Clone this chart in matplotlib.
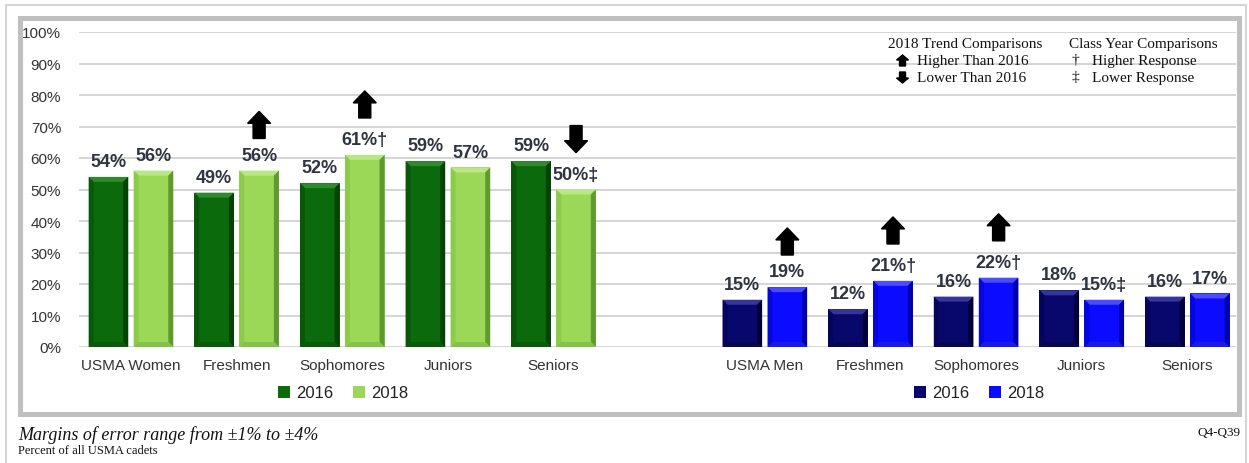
import numpy as np
import matplotlib
matplotlib.use("Agg")
import matplotlib.pyplot as plt
from matplotlib.patches import Rectangle, Polygon, FancyArrow

# ---------------- data ----------------
women_categories = ["USMA Women", "Freshmen", "Sophomores", "Juniors", "Seniors"]
women_2016 = [54, 49, 52, 59, 59]
women_2018 = [56, 56, 61, 57, 50]
women_2018_marks = ["", "", "†", "", "‡"]
women_trend = [0, 1, 1, 0, -1]          # 1 = higher than 2016, -1 = lower

men_categories = ["USMA Men", "Freshmen", "Sophomores", "Juniors", "Seniors"]
men_2016 = [15, 12, 16, 18, 16]
men_2018 = [19, 21, 22, 15, 17]
men_2018_marks = ["", "†", "†", "‡", ""]
men_trend = [1, 1, 1, 0, 0]

years = ["2016", "2018"]
y_ticks = list(range(0, 101, 10))

# ---------------- style ----------------
W, H = 1249, 464
SANS = "Liberation Sans"
SERIF = "Liberation Serif"
LABEL_COLOR = "#2f3440"
TICK_COLOR = "#333333"

# (main, top bevel, left side, right side, bottom)
C_DGREEN = ("#0b6a0b", "#2f8a2f", "#085808", "#044204", "#0a5a0a")
C_LGREEN = ("#9bd858", "#b9e785", "#8ccb4a", "#5f9a2e", "#86c24a")
C_NAVY = ("#07076c", "#35359a", "#050560", "#000036", "#060650")
C_BLUE = ("#0b0bff", "#4c4cff", "#0606e0", "#0000a8", "#1a1ae8")

fig = plt.figure(figsize=(W / 100, H / 100), dpi=100)


def fx(x):
    return x / W


def fy(y):
    return 1 - y / H


# axes: gridlines run from x=79 to 1236 px, 0% at y=348, 100% at y=33
ax = fig.add_axes([fx(79.2), fy(348), fx(1236) - fx(79.2), (348 - 33) / H])
ax.set_xlim(-0.49, 10.46)
ax.set_ylim(0, 100)

bw = 0.375
off = 0.213
xl = np.arange(len(women_categories))
xr = np.arange(len(men_categories)) + 6

px_per_x = (1236 - 79.2) / (10.46 + 0.49)
px_per_y = 315 / 100.0
bev_x = 5 / px_per_x
bev_y = 5 / px_per_y


def bevel(bar, cols):
    x0 = bar.get_x()
    x1 = x0 + bar.get_width()
    y0 = bar.get_y()
    y1 = y0 + bar.get_height()
    dy = min(bev_y, (y1 - y0) / 3)
    top = [(x0, y1), (x1, y1), (x1 - bev_x, y1 - dy), (x0 + bev_x, y1 - dy)]
    left = [(x0, y1), (x0 + bev_x, y1 - dy), (x0 + bev_x, y0 + dy), (x0, y0)]
    right = [(x1, y1), (x1, y0), (x1 - bev_x, y0 + dy), (x1 - bev_x, y1 - dy)]
    bottom = [(x0, y0), (x1, y0), (x1 - bev_x, y0 + dy), (x0 + bev_x, y0 + dy)]
    for pts, c in ((top, cols[1]), (left, cols[2]), (right, cols[3]), (bottom, cols[4])):
        ax.add_patch(Polygon(pts, closed=True, facecolor=c, edgecolor="none", zorder=3))


def draw_group(xs, v16, v18, c16, c18, marks, trend):
    b16 = ax.bar(xs - off, v16, bw, color=c16[0], zorder=2)
    b18 = ax.bar(xs + off, v18, bw, color=c18[0], zorder=2)
    for b in b16:
        bevel(b, c16)
    for b in b18:
        bevel(b, c18)
    for x, v in zip(xs - off, v16):
        ax.annotate(f"{v}%", xy=(x, v), xytext=(0, 5), textcoords="offset points",
                    ha="center", va="bottom", fontsize=13, fontweight="bold",
                    color=LABEL_COLOR, family=SANS, zorder=5)
    for x, v, m in zip(xs + off, v18, marks):
        ax.annotate(f"{v}%{m}", xy=(x, v), xytext=(0, 5), textcoords="offset points",
                    ha="center", va="bottom", fontsize=13, fontweight="bold",
                    color=LABEL_COLOR, family=SANS, zorder=5)
    for x, v, m, t in zip(xs + off, v18, marks, trend):
        if t == 0:
            continue
        base = v + (11.7 if m else 10.2)
        L = 8.6
        if t > 0:
            arr = FancyArrow(x, base, 0, L, width=0.114, head_width=0.218,
                             head_length=3.8, length_includes_head=True,
                             color="black", zorder=6)
        else:
            arr = FancyArrow(x, base + L, 0, -L, width=0.114, head_width=0.218,
                             head_length=3.8, length_includes_head=True,
                             color="black", zorder=6)
        ax.add_patch(arr)
    return b16, b18


gl16, gl18 = draw_group(xl, women_2016, women_2018, C_DGREEN, C_LGREEN,
                        women_2018_marks, women_trend)
ml16, ml18 = draw_group(xr, men_2016, men_2018, C_NAVY, C_BLUE,
                        men_2018_marks, men_trend)

# axes styling
for s in ax.spines.values():
    s.set_visible(False)
ax.set_yticks(y_ticks)
ax.set_yticklabels([f"{t}%" for t in y_ticks], fontsize=11, color=TICK_COLOR, family=SANS)
ax.set_xticks(list(xl) + list(xr))
ax.set_xticklabels(women_categories + men_categories, fontsize=11, color=TICK_COLOR, family=SANS)
ax.tick_params(axis="x", length=0, pad=8)
ax.tick_params(axis="y", length=0, pad=13)
ax.yaxis.grid(True, color="#d2d2d2", linewidth=1.3)
ax.set_axisbelow(True)

# legends
leg_kw = dict(loc="center", ncol=2, frameon=False, handlelength=0.72, handleheight=0.72,
              handletextpad=0.35, columnspacing=1.2, prop={"family": SANS, "size": 12})
leg1 = ax.legend([gl16, gl18], years, bbox_to_anchor=((343 - 79.2) / (1236 - 79.2), (348 - 394) / 315),
                 **leg_kw)
for t in leg1.get_texts():
    t.set_color("#222222")
ax.add_artist(leg1)
leg2 = ax.legend([ml16, ml18], years, bbox_to_anchor=((979 - 79.2) / (1236 - 79.2), (348 - 394) / 315),
                 **leg_kw)
for t in leg2.get_texts():
    t.set_color("#222222")

# key text (top right)
KS = 11
fig.text(fx(965), fy(48), "2018 Trend Comparisons", ha="center", va="baseline",
         fontsize=KS, family=SERIF, color="#111111")
fig.text(fx(917), fy(65), "Higher Than 2016", ha="left", va="baseline",
         fontsize=KS, family=SERIF, color="#111111")
fig.text(fx(917), fy(82), "Lower Than 2016", ha="left", va="baseline",
         fontsize=KS, family=SERIF, color="#111111")
fig.text(fx(1143), fy(48), "Class Year Comparisons", ha="center", va="baseline",
         fontsize=KS, family=SERIF, color="#111111")
fig.text(fx(1075), fy(64), "†", ha="center", va="baseline",
         fontsize=KS, family=SERIF, color="#111111")
fig.text(fx(1092), fy(65), "Higher Response", ha="left", va="baseline",
         fontsize=KS, family=SERIF, color="#111111")
fig.text(fx(1075), fy(81), "‡", ha="center", va="baseline",
         fontsize=KS, family=SERIF, color="#111111")
fig.text(fx(1092), fy(82), "Lower Response", ha="left", va="baseline",
         fontsize=KS, family=SERIF, color="#111111")
# small key arrows
ka = dict(width=(6 / W), head_width=(12 / W), head_length=(5 / H),
          length_includes_head=True, color="black", transform=fig.transFigure)
fig.add_artist(FancyArrow(fx(902.5), fy(67), 0, (11 / H), **ka))
fig.add_artist(FancyArrow(fx(902.5), fy(73), 0, -(11 / H), **ka))

# frames
fig.add_artist(Rectangle((fx(5.5), fy(480)), fx(1246) - fx(5.5), (480 - 5.5) / H,
                         transform=fig.transFigure, fill=False, edgecolor="#d6d6d6",
                         linewidth=1.5))
fig.add_artist(Rectangle((fx(19.5), fy(414.5)), fx(1238.5) - fx(19.5), (414.5 - 18.5) / H,
                         transform=fig.transFigure, fill=False, edgecolor="#c0c0c0",
                         linewidth=3.6))

# footnotes
fig.text(fx(18), fy(440), "Margins of error range from ±1% to ±4%", ha="left", va="baseline",
         fontsize=13, family=SERIF, style="italic", color="#111111")
fig.text(fx(18), fy(454), "Percent of all USMA cadets", ha="left", va="baseline",
         fontsize=9, family=SERIF, color="#111111")
fig.text(fx(1240), fy(436), "Q4-Q39", ha="right", va="baseline",
         fontsize=9.5, family=SERIF, color="#111111")

fig.savefig("out.png", dpi=100)
